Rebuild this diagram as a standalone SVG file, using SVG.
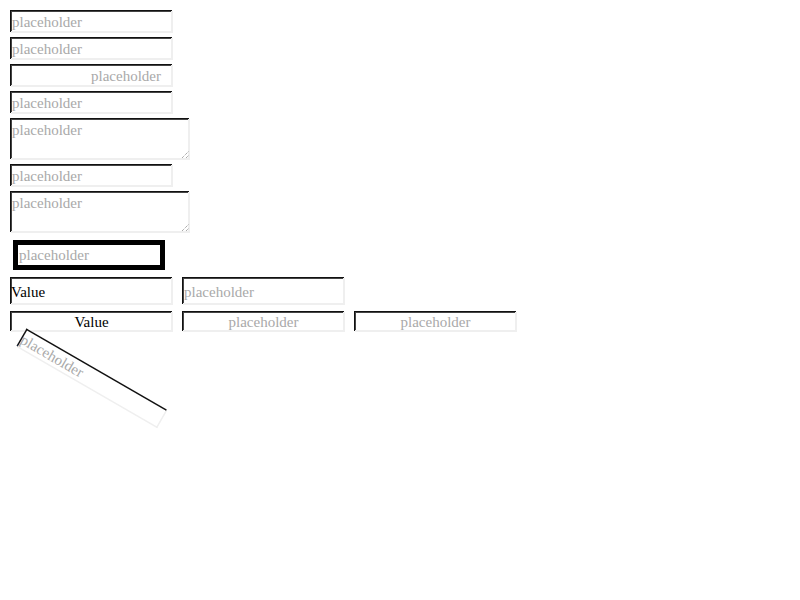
<svg xmlns="http://www.w3.org/2000/svg" width="800" height="600" viewBox="0 0 800 600">
<defs>
<style>
.bg{fill:#fff}
.dk{fill:#111}
.dk2{fill:#444}
.lt{fill:#efefef}
.ph{font-family:"Liberation Serif","Times New Roman",serif;font-size:15px;fill:#a9a9a9}
.val{font-family:"Liberation Serif","Times New Roman",serif;font-size:15px;fill:#000}
.grip{stroke:#888;stroke-width:1;stroke-dasharray:1 1}
</style>
</defs>
<rect width="800" height="600" fill="#fff"/>
<g id="connectors"></g>

<g id="input1">
<rect class="bg" x="10" y="10" width="163" height="23"/>
<rect class="lt" x="11" y="31" width="162" height="2"/><rect class="lt" x="171" y="11" width="2" height="22"/>
<rect class="dk" x="10" y="10" width="162" height="1"/><rect class="dk2" x="11" y="11" width="160" height="1"/>
<rect class="dk" x="10" y="10" width="1" height="22"/><rect class="dk2" x="11" y="11" width="1" height="20"/>
<text class="ph" x="12" y="27">placeholder</text>
</g>

<g id="input2">
<rect class="bg" x="10" y="37" width="163" height="23"/>
<rect class="lt" x="11" y="58" width="162" height="2"/><rect class="lt" x="171" y="38" width="2" height="22"/>
<rect class="dk" x="10" y="37" width="162" height="1"/><rect class="dk2" x="11" y="38" width="160" height="1"/>
<rect class="dk" x="10" y="37" width="1" height="22"/><rect class="dk2" x="11" y="38" width="1" height="20"/>
<text class="ph" x="12" y="54">placeholder</text>
</g>

<g id="input3">
<rect class="bg" x="10" y="64" width="163" height="23"/>
<rect class="lt" x="11" y="85" width="162" height="2"/><rect class="lt" x="171" y="65" width="2" height="22"/>
<rect class="dk" x="10" y="64" width="162" height="1"/><rect class="dk2" x="11" y="65" width="160" height="1"/>
<rect class="dk" x="10" y="64" width="1" height="22"/><rect class="dk2" x="11" y="65" width="1" height="20"/>
<text class="ph" x="161" y="81" text-anchor="end">placeholder</text>
</g>

<g id="input4">
<rect class="bg" x="10" y="91" width="163" height="23"/>
<rect class="lt" x="11" y="112" width="162" height="2"/><rect class="lt" x="171" y="92" width="2" height="22"/>
<rect class="dk" x="10" y="91" width="162" height="1"/><rect class="dk2" x="11" y="92" width="160" height="1"/>
<rect class="dk" x="10" y="91" width="1" height="22"/><rect class="dk2" x="11" y="92" width="1" height="20"/>
<text class="ph" x="12" y="108">placeholder</text>
</g>

<g id="textarea1">
<rect class="bg" x="10" y="118" width="180" height="42"/>
<rect class="lt" x="11" y="158" width="179" height="2"/><rect class="lt" x="188" y="119" width="2" height="41"/>
<rect class="dk" x="10" y="118" width="179" height="1"/><rect class="dk2" x="11" y="119" width="177" height="1"/>
<rect class="dk" x="10" y="118" width="1" height="41"/><rect class="dk2" x="11" y="119" width="1" height="39"/>
<line class="grip" x1="182" y1="158" x2="189" y2="151"/><line class="grip" x1="186" y1="158" x2="189" y2="155"/>
<text class="ph" x="12" y="135">placeholder</text>
</g>

<g id="input5">
<rect class="bg" x="10" y="164" width="163" height="23"/>
<rect class="lt" x="11" y="185" width="162" height="2"/><rect class="lt" x="171" y="165" width="2" height="22"/>
<rect class="dk" x="10" y="164" width="162" height="1"/><rect class="dk2" x="11" y="165" width="160" height="1"/>
<rect class="dk" x="10" y="164" width="1" height="22"/><rect class="dk2" x="11" y="165" width="1" height="20"/>
<text class="ph" x="12" y="181">placeholder</text>
</g>

<g id="textarea2">
<rect class="bg" x="10" y="191" width="180" height="42"/>
<rect class="lt" x="11" y="231" width="179" height="2"/><rect class="lt" x="188" y="192" width="2" height="41"/>
<rect class="dk" x="10" y="191" width="179" height="1"/><rect class="dk2" x="11" y="192" width="177" height="1"/>
<rect class="dk" x="10" y="191" width="1" height="41"/><rect class="dk2" x="11" y="192" width="1" height="39"/>
<line class="grip" x1="182" y1="231" x2="189" y2="224"/><line class="grip" x1="186" y1="231" x2="189" y2="228"/>
<text class="ph" x="12" y="208">placeholder</text>
</g>

<g id="input6">
<rect x="15.5" y="242.5" width="147" height="25" fill="#fff" stroke="#000" stroke-width="5"/>
<text class="ph" x="19" y="260">placeholder</text>
</g>

<g id="input7">
<rect class="bg" x="10" y="277" width="163" height="28"/>
<rect class="lt" x="11" y="303" width="162" height="2"/><rect class="lt" x="171" y="278" width="2" height="27"/>
<rect class="dk" x="10" y="277" width="162" height="1"/><rect class="dk2" x="11" y="278" width="160" height="1"/>
<rect class="dk" x="10" y="277" width="1" height="27"/><rect class="dk2" x="11" y="278" width="1" height="25"/>
<text class="val" x="11" y="297">Value</text>
</g>

<g id="input8">
<rect class="bg" x="182" y="277" width="163" height="28"/>
<rect class="lt" x="183" y="303" width="162" height="2"/><rect class="lt" x="343" y="278" width="2" height="27"/>
<rect class="dk" x="182" y="277" width="162" height="1"/><rect class="dk2" x="183" y="278" width="160" height="1"/>
<rect class="dk" x="182" y="277" width="1" height="27"/><rect class="dk2" x="183" y="278" width="1" height="25"/>
<text class="ph" x="184" y="297">placeholder</text>
</g>

<g id="input9">
<rect class="bg" x="10" y="311" width="163" height="21"/>
<rect class="lt" x="11" y="330" width="162" height="2"/><rect class="lt" x="171" y="312" width="2" height="20"/>
<rect class="dk" x="10" y="311" width="162" height="1"/><rect class="dk2" x="11" y="312" width="160" height="1"/>
<rect class="dk" x="10" y="311" width="1" height="20"/><rect class="dk2" x="11" y="312" width="1" height="18"/>
<text class="val" x="91.5" y="327" text-anchor="middle">Value</text>
</g>

<g id="input10">
<rect class="bg" x="182" y="311" width="163" height="21"/>
<rect class="lt" x="183" y="330" width="162" height="2"/><rect class="lt" x="343" y="312" width="2" height="20"/>
<rect class="dk" x="182" y="311" width="162" height="1"/><rect class="dk2" x="183" y="312" width="160" height="1"/>
<rect class="dk" x="182" y="311" width="1" height="20"/><rect class="dk2" x="183" y="312" width="1" height="18"/>
<text class="ph" x="263.5" y="327" text-anchor="middle">placeholder</text>
</g>

<g id="input11">
<rect class="bg" x="354" y="311" width="163" height="21"/>
<rect class="lt" x="355" y="330" width="162" height="2"/><rect class="lt" x="515" y="312" width="2" height="20"/>
<rect class="dk" x="354" y="311" width="162" height="1"/><rect class="dk2" x="355" y="312" width="160" height="1"/>
<rect class="dk" x="354" y="311" width="1" height="20"/><rect class="dk2" x="355" y="312" width="1" height="18"/>
<text class="ph" x="435.5" y="327" text-anchor="middle">placeholder</text>
</g>

<g id="input12" transform="translate(26.5,328.5) rotate(30)">
<rect class="bg" x="0" y="0" width="163" height="21"/>
<rect class="lt" x="1" y="19.5" width="162" height="1.5"/><rect class="lt" x="161.5" y="1" width="1.5" height="20"/>
<rect class="dk" x="0" y="0" width="162" height="1.5"/>
<rect class="dk" x="0" y="0" width="1.5" height="20"/>
<text class="ph" x="1" y="16">placeholder</text>
</g>
</svg>
